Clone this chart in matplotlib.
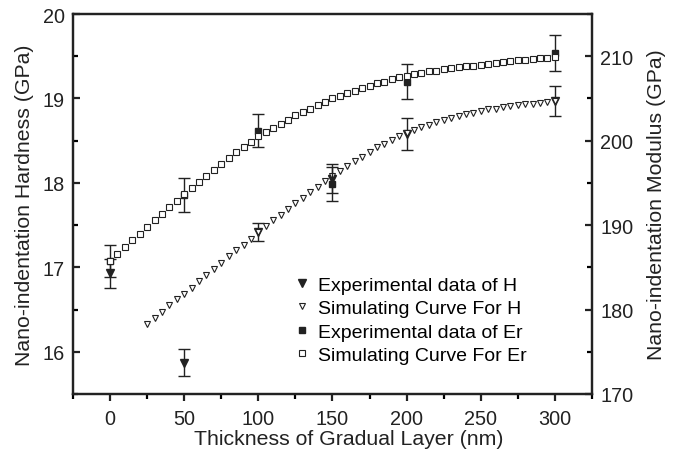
import matplotlib
matplotlib.use("Agg")
import matplotlib.pyplot as plt
from matplotlib.ticker import MultipleLocator

plt.rcParams['font.family'] = ['Liberation Sans', 'DejaVu Sans']

# Experimental data
x_exp = [0, 50, 100, 150, 200, 300]
H_exp = [16.93, 15.87, 17.42, 18.05, 18.58, 18.97]
H_err = [0.17, 0.16, 0.11, 0.17, 0.19, 0.18]
Er_exp = [185.8, 193.6, 201.2, 194.9, 207.0, 210.4]
Er_err = [1.9, 2.0, 2.0, 2.0, 2.1, 2.1]

# Simulating curves
x_simH = list(range(25, 305, 5))
H_sim = [16.33, 16.40, 16.47, 16.55, 16.62, 16.69, 16.76, 16.84, 16.91, 16.98,
         17.05, 17.13, 17.20, 17.27, 17.34, 17.42, 17.49, 17.56, 17.62, 17.69,
         17.76, 17.82, 17.89, 17.95, 18.02, 18.08, 18.14, 18.20, 18.26, 18.31,
         18.36, 18.42, 18.46, 18.51, 18.55, 18.59, 18.63, 18.66, 18.69, 18.72,
         18.75, 18.77, 18.79, 18.81, 18.83, 18.85, 18.87, 18.88, 18.90, 18.91,
         18.92, 18.93, 18.94, 18.95, 18.96, 18.97]
x_simEr = list(range(0, 305, 5))
Er_sim = [185.8, 186.6, 187.4, 188.2, 189.0, 189.8, 190.6, 191.3, 192.1, 192.9,
          193.7, 194.4, 195.1, 195.8, 196.5, 197.2, 197.9, 198.6, 199.2, 199.9,
          200.5, 201.0, 201.5, 202.0, 202.5, 203.0, 203.4, 203.8, 204.2, 204.6,
          205.0, 205.3, 205.6, 205.9, 206.2, 206.5, 206.8, 207.0, 207.3, 207.5,
          207.7, 207.9, 208.0, 208.2, 208.3, 208.5, 208.6, 208.7, 208.8, 208.9,
          209.0, 209.1, 209.2, 209.3, 209.4, 209.5, 209.6, 209.7, 209.8, 209.8,
          209.9]

fig = plt.figure(figsize=(6.77, 4.56), dpi=100)
ax = fig.add_axes([0.1078, 0.1338, 0.7666, 0.8333])
ax2 = ax.twinx()

ink = '#222222'
eH = ax.errorbar(x_exp, H_exp, yerr=H_err, fmt='v', ms=6, color=ink, ecolor=ink,
                 elinewidth=1, capsize=4, capthick=1, zorder=2)
h_simH, = ax.plot(x_simH, H_sim, linestyle='none', marker='v', ms=4.8,
                  mfc='white', mec=ink, mew=0.8, zorder=3)
eEr = ax2.errorbar(x_exp, Er_exp, yerr=Er_err, fmt='s', ms=5, color=ink, ecolor=ink,
                   elinewidth=1, capsize=4, capthick=1, zorder=2)
h_simEr, = ax2.plot(x_simEr, Er_sim, linestyle='none', marker='s', ms=4.0,
                    mfc='white', mec=ink, mew=0.8, zorder=3)

ax.set_xlim(-25, 325)
ax.set_ylim(15.5, 20)
ax2.set_ylim(170, 215)

ax.xaxis.set_major_locator(MultipleLocator(50))
ax.xaxis.set_minor_locator(MultipleLocator(25))
ax.yaxis.set_major_locator(MultipleLocator(1))
ax.yaxis.set_minor_locator(MultipleLocator(0.5))
ax2.yaxis.set_major_locator(MultipleLocator(10))
ax2.yaxis.set_minor_locator(MultipleLocator(5))

for a in (ax, ax2):
    for s in a.spines.values():
        s.set_linewidth(1.6)
        s.set_color(ink)

ax.tick_params(axis='x', which='major', direction='out', length=5, width=1.6,
               labelsize=14.3, pad=6, colors=ink)
ax.tick_params(axis='x', which='minor', direction='out', length=3.5, width=1.6)
ax.tick_params(axis='y', which='major', direction='in', length=5, width=1.6,
               labelsize=14.3, pad=6, colors=ink)
ax.tick_params(axis='y', which='minor', direction='in', length=3.5, width=1.6)
ax2.tick_params(axis='y', which='major', direction='in', length=5, width=1.6,
                labelsize=14.3, pad=6, colors=ink)
ax2.tick_params(axis='y', which='minor', direction='in', length=3.5, width=1.6)

ax.set_xlabel('Thickness of Gradual Layer (nm)', fontsize=15.3, color=ink)
ax.xaxis.set_label_coords(0.532, -0.093)
ax.set_ylabel('Nano-indentation Hardness (GPa)', fontsize=15.3, color=ink, labelpad=6)
ax2.set_ylabel('Nano-indentation Modulus (GPa)', fontsize=15.3, color=ink, labelpad=10)

ax2.legend([eH[0], h_simH, eEr[0], h_simEr],
           ['Experimental data of H', 'Simulating Curve For H',
            'Experimental data of Er', 'Simulating Curve For Er'],
           loc='upper left', bbox_to_anchor=(0.422, 0.31), frameon=False,
           fontsize=14, handlelength=1.0, handletextpad=0.34,
           labelspacing=0.3, borderaxespad=0, borderpad=0)

fig.savefig('out.png', dpi=100)
